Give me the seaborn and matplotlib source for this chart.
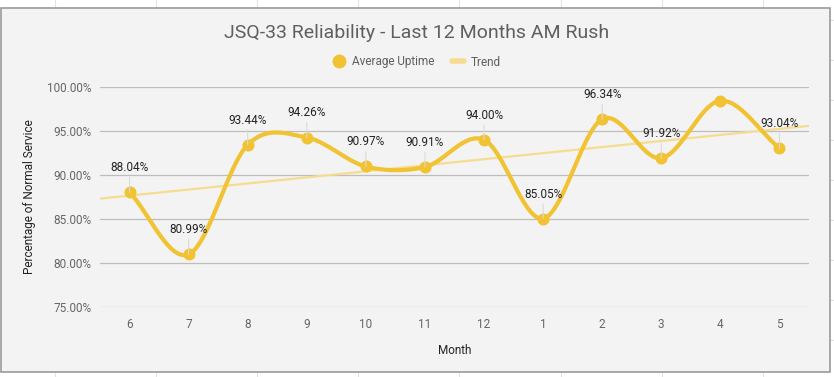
import numpy as np
import pandas as pd
import seaborn as sns
import matplotlib.pyplot as plt
from matplotlib.patches import Rectangle
from matplotlib.lines import Line2D
from matplotlib.ticker import FuncFormatter

months = ['6', '7', '8', '9', '10', '11', '12', '1', '2', '3', '4', '5']
uptime = [88.04, 80.99, 93.44, 94.26, 90.97, 90.91, 94.00, 85.05, 96.34, 91.92, 98.44, 93.04]
# sheets hides the label of month 4 (overlap)
hidden_labels = ['4']

yellow = '#f1c232'
trend_col = '#f6dc90'
bg = '#f3f3f3'


def catmull(x, y, n=40):
    # smooth curve through the points, like the "smooth" option in sheets
    x = np.asarray(x, float)
    y = np.asarray(y, float)
    m = np.gradient(y, x)
    xs, ys = [], []
    for i in range(len(x) - 1):
        t = np.linspace(0, 1, n)
        h = x[i + 1] - x[i]
        h00 = 2 * t**3 - 3 * t**2 + 1
        h10 = t**3 - 2 * t**2 + t
        h01 = -2 * t**3 + 3 * t**2
        h11 = t**3 - t**2
        xs.append(x[i] + t * h)
        ys.append(h00 * y[i] + h10 * h * m[i] + h01 * y[i + 1] + h11 * h * m[i + 1])
    return np.concatenate(xs), np.concatenate(ys)


df = pd.DataFrame({'pos': np.arange(len(months)), 'month': months, 'uptime': uptime})
sx, sy = catmull(df['pos'], df['uptime'])
smooth = pd.DataFrame({'pos': sx, 'uptime': sy})

sns.set_theme(style='white')
plt.rcParams['font.family'] = ['Roboto', 'DejaVu Sans']

fig = plt.figure(figsize=(8.34, 3.77), dpi=100)
fig.patch.set_facecolor('white')

# spreadsheet cells around the chart
for gx in [55, 156, 257, 358, 459, 561, 662, 763]:
    fig.add_artist(Line2D([gx / 834, gx / 834], [0, 1], color='#e2e2e2', lw=0.8, zorder=0))
for gy in [20, 60, 100, 140, 180, 220, 260, 300, 340]:
    fig.add_artist(Line2D([0, 1], [1 - gy / 377, 1 - gy / 377], color='#e2e2e2', lw=0.8, zorder=0))
fig.add_artist(Rectangle((1 / 834, 1 - 372 / 377), 829 / 834, 364 / 377,
                         facecolor=bg, edgecolor='#9a9a9a', lw=1.2, zorder=1))

ax = fig.add_axes([100 / 834, 1 - 307 / 377, 709 / 834, 220 / 377])
ax.set_facecolor(bg)
ax.set_zorder(2)
ax.set_xlim(-0.5, len(months) - 0.5)
ax.set_ylim(75, 100)

sns.regplot(data=df, x='pos', y='uptime', ax=ax, scatter=False, ci=None, truncate=False,
            line_kws=dict(color=trend_col, lw=1.6, zorder=2))
sns.lineplot(data=smooth, x='pos', y='uptime', ax=ax, color=yellow, lw=3, zorder=3, sort=False)
sns.scatterplot(data=df, x='pos', y='uptime', ax=ax, color=yellow, s=75, edgecolor=yellow,
                linewidth=0, zorder=4)

for p, m, v in zip(df['pos'], df['month'], df['uptime']):
    if m in hidden_labels:
        continue
    ax.annotate(f'{v:.2f}%', (p, v), xytext=(0, 13), textcoords='offset points',
                ha='center', va='bottom', fontsize=8.5, color='#222222', zorder=5,
                arrowprops=dict(arrowstyle='-', color='#dadada', lw=0.8,
                                shrinkA=0, shrinkB=0))

ax.set_yticks([75, 80, 85, 90, 95, 100])
ax.yaxis.set_major_formatter(FuncFormatter(lambda v, _: f'{v:.2f}%'))
ax.set_xticks(df['pos'])
ax.set_xticklabels(months)
ax.grid(axis='y', color='#bdbdbd', lw=0.9)
ax.grid(axis='x', visible=False)
ax.set_axisbelow(True)
for s in ax.spines.values():
    s.set_visible(False)
ax.tick_params(axis='both', length=0, labelsize=8.5, labelcolor='#666666')
ax.tick_params(axis='y', pad=6)
ax.tick_params(axis='x', pad=8)
ax.set_xlabel('Month', fontsize=8.5, color='#222222', labelpad=9)
ax.set_ylabel('Percentage of Normal Service', fontsize=8.5, color='#222222', labelpad=8)

fig.text(0.5, 1 - 33 / 377, 'JSQ-33 Reliability - Last 12 Months AM Rush', ha='center', va='center',
         fontsize=14, color='#5f5f5f', zorder=3)

handles = [Line2D([], [], marker='o', ls='none', color=yellow, markersize=9),
           Line2D([], [], color=trend_col, lw=4)]
fig.legend(handles, ['Average Uptime', 'Trend'], loc='center', bbox_to_anchor=(0.5, 1 - 62 / 377),
           ncol=2, frameon=False, fontsize=8.5, labelcolor='#5f5f5f', handlelength=1.0,
           columnspacing=1.5, handletextpad=0.6)

fig.savefig('out.png', dpi=100, facecolor=fig.get_facecolor())
